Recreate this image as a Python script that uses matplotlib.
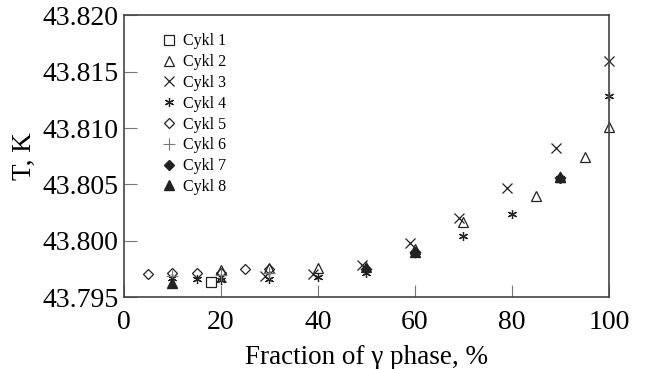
import matplotlib
matplotlib.use('Agg')
import matplotlib.pyplot as plt
from matplotlib.ticker import FormatStrFormatter

plt.rcParams['font.family'] = ['Liberation Serif', 'DejaVu Serif']
plt.rcParams['mathtext.fontset'] = 'stix'

# Данные по циклам (доля гамма-фазы, %, и температура, K)
c1_x = [18]
c1_y = [43.7964]
c2_x = [20, 30, 40, 50, 60, 70, 85, 90, 95, 100]
c2_y = [43.7974, 43.7976, 43.7976, 43.7977, 43.7993, 43.8017, 43.8040, 43.8057, 43.8074, 43.8101]
c3_x = [20, 29, 39, 49, 59, 69, 79, 89, 100]
c3_y = [43.7968, 43.7969, 43.7971, 43.7979, 43.7998, 43.8020, 43.8047, 43.8082, 43.8159]
c4_x = [10, 15, 20, 30, 40, 50, 60, 70, 80, 90, 100]
c4_y = [43.7967, 43.7966, 43.7965, 43.7966, 43.7968, 43.7972, 43.7989, 43.8004, 43.8024, 43.8056, 43.8128]
c5_x = [5, 10, 15, 20, 25, 30]
c5_y = [43.7971, 43.7972, 43.7972, 43.7972, 43.7975, 43.7975]
c6_x = [10, 20, 30, 50, 60, 90]
c6_y = [43.7969, 43.7970, 43.7972, 43.7975, 43.7990, 43.8057]
c7_x = [50, 60, 90]
c7_y = [43.7975, 43.7990, 43.8056]
c8_x = [10, 60, 90]
c8_y = [43.7963, 43.7990, 43.8057]

x_ticks = [0, 20, 40, 60, 80, 100]
y_ticks = [43.795, 43.800, 43.805, 43.810, 43.815, 43.820]

col = '#222222'
fig = plt.figure(figsize=(6.45, 3.69), dpi=100)
ax = fig.add_axes([0.192, 0.194, 0.752, 0.765])

ax.plot(c1_x, c1_y, 's', mfc='none', mec=col, ms=6.5, mew=0.9, ls='none', label='Cykl 1', clip_on=False)
ax.plot(c2_x, c2_y, '^', mfc='none', mec=col, ms=6.5, mew=0.9, ls='none', label='Cykl 2', clip_on=False)
ax.plot(c3_x, c3_y, 'x', mec=col, ms=6.5, mew=0.9, ls='none', label='Cykl 3', clip_on=False)
ax.plot(c4_x, c4_y, marker=(6, 2, 0), color=col, ms=6.5, mew=0.9, ls='none', label='Cykl 4', clip_on=False)
ax.plot(c5_x, c5_y, 'D', mfc='none', mec=col, ms=5, mew=0.9, ls='none', label='Cykl 5', clip_on=False)
ax.plot(c6_x, c6_y, '+', mec='#777777', ms=8, mew=0.8, ls='none', label='Cykl 6', clip_on=False)
ax.plot(c7_x, c7_y, 'D', mfc=col, mec=col, ms=5, ls='none', label='Cykl 7', clip_on=False)
ax.plot(c8_x, c8_y, '^', mfc=col, mec=col, ms=6.5, ls='none', label='Cykl 8', clip_on=False)

ax.set_xlim(0, 100)
ax.set_ylim(43.795, 43.820)
ax.set_xticks(x_ticks)
ax.set_yticks(y_ticks)
ax.yaxis.set_major_formatter(FormatStrFormatter('%.3f'))
ax.tick_params(direction='in', length=9, width=0.8, color='#777777', labelsize=20, top=False, right=False)
ax.tick_params(axis='x', pad=9)
ax.tick_params(axis='y', pad=4)
for s in ax.spines.values():
    s.set_color('#444444')
    s.set_linewidth(1.2)

ax.set_xlabel('Fraction of γ phase, %', fontsize=19.5, labelpad=7)
ax.set_ylabel('T, K', fontsize=19.5, labelpad=4)

ax.legend(loc='upper left', bbox_to_anchor=(0.066, 0.958), frameon=False, fontsize=11.5,
          handlelength=0.9, handletextpad=0.4, labelspacing=0.3, borderaxespad=0)

fig.savefig('out.png', dpi=100)
